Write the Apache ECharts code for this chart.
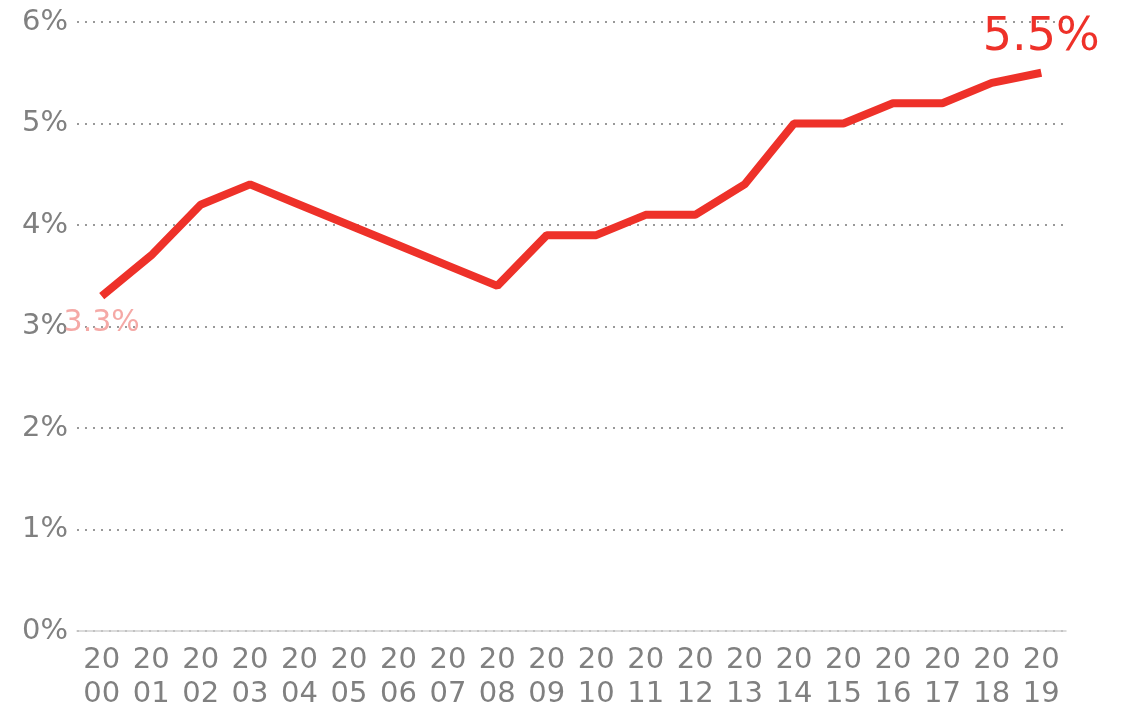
<!DOCTYPE html>
<html lang="en">
<head>
    <meta charset="UTF-8">
    <title>Rate</title>
    <script src="https://cdn.jsdelivr.net/npm/echarts@6/dist/echarts.min.js"></script>
    <style>
        html, body { margin: 0; padding: 0; background: #fff; }
        #container { width: 1128px; height: 711px; }
    </style>
</head>
<body>
    <div id="container"></div>
    <script type="text/javascript">
        // data
        var years = ['2000', '2001', '2002', '2003', '2004', '2005', '2006', '2007', '2008', '2009',
            '2010', '2011', '2012', '2013', '2014', '2015', '2016', '2017', '2018', '2019'];
        var rates = [3.3, 3.7, 4.2, 4.4, 4.2, 4.0, 3.8, 3.6, 3.4, 3.9,
            3.9, 4.1, 4.1, 4.4, 5.0, 5.0, 5.2, 5.2, 5.4, 5.5];
        var yTicks = [0, 1, 2, 3, 4, 5, 6];

        var lastIdx = rates.length - 1;
        var seriesData = rates.map(function (v, i) {
            var item = { value: v };
            if (i === 0) {
                item.label = {
                    show: true, position: 'bottom', distance: 12,
                    color: '#f5a9a6', fontSize: 30,
                    formatter: '{c}%'
                };
            } else if (i === lastIdx) {
                item.label = {
                    show: true, position: 'top', distance: 12,
                    color: '#ee3129', fontSize: 46,
                    formatter: '{c}%'
                };
            }
            return item;
        });

        var myChart = echarts.init(document.getElementById('container'), null, { renderer: 'canvas' });
        var option = {
            animation: false,
            textStyle: { fontFamily: 'DejaVu Sans' },
            grid: { left: 77, right: 62, top: 22, bottom: 79, containLabel: false },
            xAxis: {
                type: 'category',
                data: years,
                boundaryGap: true,
                axisLine: { lineStyle: { color: '#d0d0d0', width: 1.5 } },
                axisTick: { show: false },
                axisLabel: {
                    color: '#808080', fontSize: 29, lineHeight: 34, margin: 12, interval: 0,
                    formatter: function (v) { return v.slice(0, 2) + '\n' + v.slice(2); }
                }
            },
            yAxis: {
                type: 'value',
                min: yTicks[0],
                max: yTicks[yTicks.length - 1],
                interval: 1,
                axisLine: { show: false },
                axisTick: { show: false },
                axisLabel: {
                    color: '#808080', fontSize: 29, margin: 9, padding: [5, 0, 0, 0],
                    formatter: '{value}%'
                },
                splitLine: { lineStyle: { color: '#999999', width: 2, type: [2, 6] } }
            },
            series: [{
                type: 'line',
                data: seriesData,
                symbol: 'circle',
                symbolSize: 0,
                showSymbol: true,
                lineStyle: { color: '#ee3129', width: 8 },
                itemStyle: { color: '#ee3129' },
                z: 5
            }]
        };
        myChart.setOption(option);
        window.addEventListener('resize', myChart.resize);
    </script>
</body>
</html>
